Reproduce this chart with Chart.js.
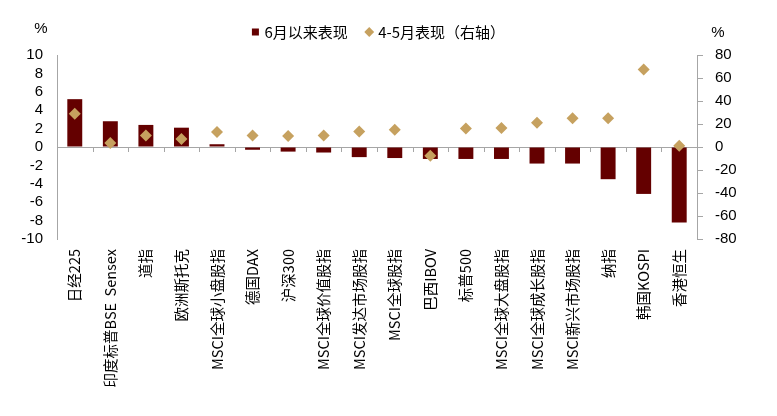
<!DOCTYPE html>
<html>
<head>
<meta charset="utf-8">
<script src="https://cdn.jsdelivr.net/npm/chart.js@4.4.1/dist/chart.umd.min.js"></script>
<style>
  html, body { margin: 0; padding: 0; background: #ffffff; }
  #wrap { width: 777px; height: 416px; position: relative; }
</style>
</head>
<body>
<div id="wrap"><canvas id="c" width="777" height="416"></canvas></div>
<script>
// ---- data ----
const categories = ['日经225', '印度标普BSE  Sensex', '道指', '欧洲斯托克', 'MSCI全球小盘股指', '德国DAX', '沪深300',
  'MSCI全球价值股指', 'MSCI发达市场股指', 'MSCI全球股指', '巴西IBOV', '标普500', 'MSCI全球大盘股指',
  'MSCI全球成长股指', 'MSCI新兴市场股指', '纳指', '韩国KOSPI', '香港恒生'];
const sinceJune = [5.2, 2.8, 2.4, 2.1, 0.3, -0.3, -0.5, -0.6, -1.1, -1.2, -1.3, -1.3, -1.3, -1.8, -1.8, -3.5, -5.1, -8.2];
const aprMay = [29, 3.5, 10, 7, 13, 10, 9.5, 10, 13.5, 15, -7.5, 16, 16.5, 21, 25, 25, 67.5, 1];
const seriesNames = ['6月以来表现', '4-5月表现（右轴）'];
const leftTicks = { min: -10, max: 10, step: 2 };
const rightTicks = { min: -80, max: 80, step: 20 };
const unitLabel = '%';

const BAR = '#640000';
const DOT = '#C6A15F';
const AXIS = '#a6a6a6';
const LATIN = '"Liberation Sans", Arial, "Noto Sans CJK SC", sans-serif';
const CJK = '"Noto Sans CJK SC", "Liberation Sans", sans-serif';

// plugin: category tick marks on the zero line, unit labels, legend spacing
const extras = {
  id: 'extras',
  afterInit(chart) {
    const lg = chart.legend;
    if (lg) {
      const origFit = lg.fit;
      lg.fit = function () { origFit.call(this); this.height += 5.5; };
    }
  },
  beforeDatasetsDraw(chart) {
    const { ctx, scales: { x, y } } = chart;
    const y0 = y.getPixelForValue(0);
    ctx.save();
    ctx.strokeStyle = AXIS;
    ctx.lineWidth = 1;
    ctx.beginPath();
    for (let i = 1; i < categories.length; i++) {
      const px = Math.round(x.getPixelForValue(i - 0.5)) + 0.5;
      ctx.moveTo(px, y0);
      ctx.lineTo(px, y0 + 5);
    }
    ctx.stroke();
    ctx.restore();
  },
  afterDraw(chart) {
    const { ctx, chartArea } = chart;
    ctx.save();
    ctx.fillStyle = '#000';
    ctx.font = '15px ' + LATIN;
    ctx.textAlign = 'center';
    ctx.textBaseline = 'middle';
    ctx.fillText(unitLabel, chartArea.left - 16, chartArea.top - 26);
    ctx.fillText(unitLabel, chartArea.right + 21, chartArea.top - 22);
    ctx.restore();
  }
};

new Chart(document.getElementById('c'), {
  data: {
    labels: categories,
    datasets: [
      {
        type: 'line',
        label: seriesNames[1],
        data: aprMay,
        yAxisID: 'y2',
        showLine: false,
        pointStyle: 'rectRot',
        pointRadius: 6,
        pointHoverRadius: 6,
        pointBackgroundColor: DOT,
        pointBorderWidth: 0,
        backgroundColor: DOT,
        borderColor: DOT,
        order: 1
      },
      {
        type: 'bar',
        label: seriesNames[0],
        data: sinceJune,
        yAxisID: 'y',
        backgroundColor: BAR,
        borderWidth: 0,
        barPercentage: 0.42,
        categoryPercentage: 1.0,
        pointStyle: 'rect',
        order: 2
      }
    ]
  },
  options: {
    responsive: false,
    animation: false,
    layout: { padding: { top: 4.5, left: 0, right: 18, bottom: 0 } },
    plugins: {
      tooltip: { enabled: false },
      legend: {
        display: true,
        position: 'top',
        reverse: true,
        labels: {
          usePointStyle: true,
          boxWidth: 3,
          boxHeight: 7,
          padding: 20,
          color: '#000',
          font: { size: 15, family: CJK }
        }
      }
    },
    scales: {
      x: {
        type: 'category',
        position: 'bottom',
        offset: true,
        afterFit: (s) => { s.height = 177; },
        grid: { display: false, drawTicks: false },
        border: { display: false },
        ticks: {
          autoSkip: false,
          minRotation: 90,
          maxRotation: 90,
          padding: 10,
          color: '#000',
          font: { size: 14.5, family: CJK }
        }
      },
      y: {
        position: 'left',
        min: leftTicks.min,
        max: leftTicks.max,
        afterFit: (s) => { s.width = 57; },
        grid: {
          drawTicks: false,
          color: (c) => (c.tick && c.tick.value === 0 ? AXIS : 'rgba(0,0,0,0)'),
          lineWidth: 1
        },
        border: { display: true, color: AXIS, width: 1 },
        ticks: {
          stepSize: leftTicks.step,
          autoSkip: false,
          padding: 14,
          color: '#000',
          font: { size: 15, family: LATIN }
        }
      },
      y2: {
        position: 'right',
        min: rightTicks.min,
        max: rightTicks.max,
        afterFit: (s) => { s.width = 62; },
        grid: { drawOnChartArea: false, drawTicks: true, tickLength: 6, color: AXIS },
        border: { display: true, color: AXIS, width: 1 },
        ticks: {
          stepSize: rightTicks.step,
          autoSkip: false,
          padding: 12,
          color: '#000',
          font: { size: 15, family: LATIN }
        }
      }
    }
  },
  plugins: [extras]
});
</script>
</body>
</html>
